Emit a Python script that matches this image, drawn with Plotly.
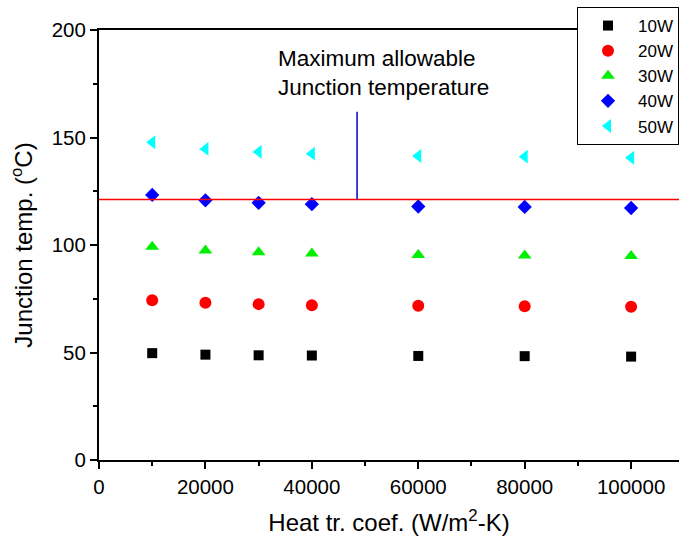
import plotly.graph_objects as go

# ---- data ----
heat_coef = [10000, 20000, 30000, 40000, 60000, 80000, 100000]
t_10w = [49.7, 49.0, 48.7, 48.6, 48.4, 48.3, 48.1]
t_20w = [74.3, 73.1, 72.5, 72.0, 71.7, 71.5, 71.3]
t_30w = [99.2, 97.4, 96.6, 96.0, 95.4, 95.1, 94.9]
t_40w = [123.3, 120.8, 119.6, 119.0, 117.9, 117.7, 117.2]
t_50w = [147.8, 144.7, 143.3, 142.5, 141.4, 141.1, 140.6]
series_names = ["10W", "20W", "30W", "40W", "50W"]
max_junction_temp = 121.2
marker_line_x = 48500
marker_line_top = 162.0
x_tick_vals = [0, 20000, 40000, 60000, 80000, 100000]
y_tick_vals = [0, 50, 100, 150, 200]

series = [t_10w, t_20w, t_30w, t_40w, t_50w]
symbols = ["square", "circle", "triangle-up", "diamond", "triangle-left"]
colors = ["#000000", "#ff0000", "#00ee00", "#0000ff", "#00ffff"]
sizes = [10, 12, 12, 11, 12]

font = "Liberation Sans, Arial, sans-serif"
fig = go.Figure()
for name, ys, sym, col, sz in zip(series_names, series, symbols, colors, sizes):
    fig.add_trace(go.Scatter(x=heat_coef, y=ys, mode="markers", name=name,
                             marker=dict(symbol=sym, color=col, size=sz, line=dict(width=0))))

# red horizontal line (max allowable junction temperature)
fig.add_shape(type="line", xref="paper", x0=0, x1=1, yref="y",
              y0=max_junction_temp, y1=max_junction_temp,
              line=dict(color="#ff0000", width=1.5))
# blue vertical pointer line
fig.add_shape(type="line", xref="x", x0=marker_line_x, x1=marker_line_x, yref="y",
              y0=max_junction_temp, y1=marker_line_top,
              line=dict(color="#0000cc", width=1.5))

fig.add_annotation(x=33300, y=179.8, xref="x", yref="y", xanchor="left",
                   text="Maximum allowable<br>Junction temperature",
                   showarrow=False, align="left",
                   font=dict(family=font, size=22.5, color="#000000"))

fig.update_layout(
    width=679, height=543,
    margin=dict(l=99, r=0, t=30, b=83, autoexpand=False),
    plot_bgcolor="white", paper_bgcolor="white",
    font=dict(family=font, size=20.5, color="#000000"),
    showlegend=True,
    legend=dict(xref="container", yref="container", x=577 / 679, y=1 - 7 / 543,
                xanchor="left", yanchor="top",
                bordercolor="#000000", borderwidth=1, bgcolor="white",
                font=dict(family=font, size=17), tracegroupgap=0,
                itemwidth=50, entrywidth=110, entrywidthmode="pixels"),
    xaxis=dict(range=[0, 109000], tickvals=x_tick_vals,
               ticktext=[str(v) for v in x_tick_vals],
               showgrid=False, zeroline=False,
               showline=True, linecolor="#000000", linewidth=2, mirror=True,
               ticks="outside", ticklen=7, tickwidth=2, tickcolor="#000000",
               minor=dict(dtick=10000, ticks="outside", ticklen=4, tickwidth=2, tickcolor="#000000"),
               title=dict(text="Heat tr. coef. (W/m<sup>2</sup>-K)", font=dict(size=24), standoff=18)),
    yaxis=dict(range=[0, 200], tickvals=y_tick_vals,
               showgrid=False, zeroline=False,
               showline=True, linecolor="#000000", linewidth=2,
               ticks="outside", ticklen=7, tickwidth=2, tickcolor="#000000",
               minor=dict(dtick=25, ticks="outside", ticklen=4, tickwidth=2, tickcolor="#000000"),
               title=dict(text="Junction temp. (<sup>o</sup>C)", font=dict(size=24), standoff=12)),
)

fig.write_html("out.html")
